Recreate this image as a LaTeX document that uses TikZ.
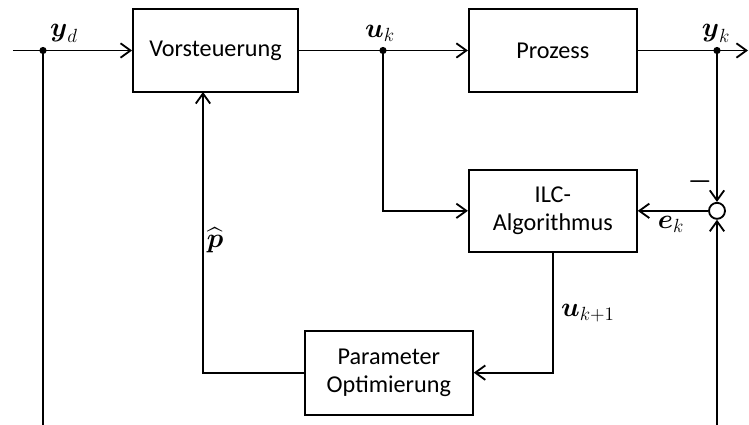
\documentclass[tikz,border=0pt]{standalone}
\usepackage{amsmath}
\usepackage{fontspec}
\setmainfont{Carlito}
\usetikzlibrary{positioning,arrows.meta,calc}
\newcommand{\sig}[1]{\scalebox{1.13}{$#1$}}

\begin{document}
\begin{tikzpicture}[font=\fontsize{17.2}{20}\selectfont,line width=1.3pt,
  blockbox/.style={draw,line width=1.3pt,minimum width=4.2cm,minimum height=2.075cm,
               align=center,inner sep=2pt},
  lbl/.style={font=\fontsize{17.28}{20}\selectfont,inner sep=1pt},
  ar/.style={-{Straight Barb[length=2.5mm,width=3.6mm]},line width=1.3pt},
  junc/.style={circle,fill,inner sep=0pt,minimum size=1.8mm},
  sumpt/.style={circle,draw,fill=white,line width=1.3pt,inner sep=0pt,minimum size=4mm}]
\useasboundingbox (0,0) rectangle (18.725,-10.625);
% blocks
\node[blockbox,minimum width=4.125cm] (vor) at (5.3875,-1.2625) {Vorsteuerung};
\node[blockbox,right=4.225cm of vor] (proz) {Prozess};
\node[blockbox,minimum height=2.05cm,below=1.9cm of proz] (ilc) {ILC-\\Algorithmus};
\node[blockbox,minimum height=2.1cm,below=1.925cm of ilc,xshift=-4.1cm] (param) {Parameter\\Optimierung};
% points
\coordinate (in) at (0.325,-1.2625);
\coordinate (out) at (18.7,-1.2625);
\coordinate (yd) at (1.075,-1.2625);
\coordinate (ydend) at (1.075,-10.625);
\coordinate (uk) at (9.575,-1.2625);
\coordinate (yk) at (17.925,-1.2625);
\coordinate (ykend) at (17.925,-10.625);
\coordinate (fb) at (5.075,-2.3);
\node[sumpt] (sum) at (yk |- ilc) {};
% connectors
\draw[ar] (in) -- (vor.west);
\draw (yd) -- (ydend);
\draw[ar] (vor.east) -- (proz.west);
\draw[ar] (proz.east) -- (out);
\draw[ar] (uk) |- (ilc.west);
\draw[ar] (yk) -- (sum.north);
\draw[ar] (ykend) -- (sum.south);
\draw[ar] (sum.west) -- (ilc.east);
\draw[ar] (ilc.south) |- (param.east);
\draw[ar] (param.west) -| (fb);
\node[junc] at (yd) {};
\node[junc] at (uk) {};
\node[junc] at (yk) {};
% labels
\node[lbl] (lyd) at (1.6,-0.83) {\sig{\boldsymbol{y}_d}};
\node[lbl] (luk) at (9.5,-0.83) {\sig{\boldsymbol{u}_k}};
\node[lbl] (lyk) at (17.9,-0.83) {\sig{\boldsymbol{y}_k}};
\node[lbl] (lminus) at (17.5,-4.55) {\sig{\boldsymbol{-}}};
\node[lbl] (lek) at (16.775,-5.62) {\sig{\boldsymbol{e}_k}};
\node[lbl] (lp) at (5.375,-6.0) {\sig{\widehat{\boldsymbol{p}}}};
\node[lbl] (luk1) at (14.7,-7.83) {\sig{\boldsymbol{u}_{k+1}}};
\end{tikzpicture}
\end{document}
